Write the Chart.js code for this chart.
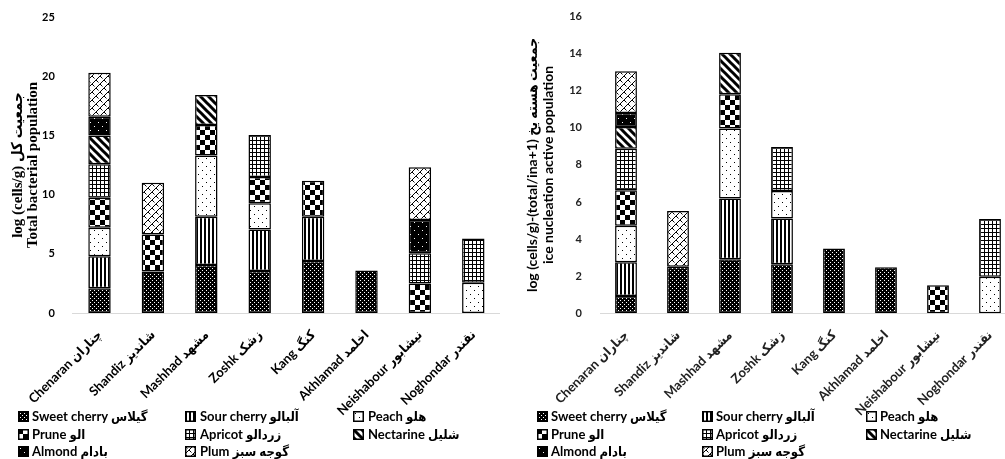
<!DOCTYPE html>
<html><head><meta charset="utf-8">
<script src="https://cdn.jsdelivr.net/npm/chart.js@4.4.1/dist/chart.umd.min.js"></script>
<style>
body{margin:0;width:1005px;height:459px;overflow:hidden;background:#fff;position:relative}
#c1{position:absolute;left:0;top:0}
#c2{position:absolute;left:500px;top:0}
.li{position:absolute;font:bold 13px Lato,'DejaVu Sans Condensed','DejaVu Sans',sans-serif;color:#000;white-space:nowrap;line-height:17px;height:17px}
.li canvas{position:absolute;left:0;top:3px}
.li span{position:absolute;top:0}
</style></head>
<body>
<canvas id="c1" width="500" height="459"></canvas>
<canvas id="c2" width="516" height="459"></canvas>
<div id="legends"></div>
<script>
// ---- data ----
const categories = ['Chenaran چناران','Shandiz شاندیز','Mashhad مشهد','Zoshk زشک','Kang کنگ','Akhlamad اخلمد','Neishabour نیشابور','Noghondar نقندر'];
const seriesNames = ['Sweet cherry گیلاس','Sour cherry آلبالو','Peach هلو','Prune الو','Apricot زردالو','Nectarine شلیل','Almond بادام','Plum گوجه سبز'];

// Total bacterial population (left chart)
const sweetTotal     = [2.1, 3.5, 4.05, 3.55, 4.4, 3.6, null, null];
const sourTotal      = [2.7, null, 4.08, 3.5, 3.73, null, null, null];
const peachTotal     = [2.4, null, 5.17, 2.22, null, null, null, 2.56];
const pruneTotal     = [2.53, 3.14, 2.57, 2.22, 3.03, null, 2.5, null];
const apricotTotal   = [2.84, null, null, 3.55, null, null, 2.54, 3.74];
const nectarineTotal = [2.43, null, 2.55, null, null, null, null, null];
const almondTotal    = [1.57, null, null, null, null, null, 2.81, null];
const plumTotal      = [3.73, 4.36, null, null, null, null, 4.45, null];

// Ice nucleation active population (right chart)
const sweetINA     = [0.93, 2.51, 2.91, 2.64, 3.5, 2.48, null, null];
const sourINA      = [1.82, null, 3.28, 2.47, null, null, null, null];
const peachINA     = [1.97, null, 3.77, 1.48, null, null, null, 1.97];
const pruneINA     = [1.92, null, 1.85, null, null, null, 1.51, null];
const apricotINA   = [2.24, null, null, 2.38, null, null, null, 3.11];
const nectarineINA = [1.17, null, 2.24, null, null, null, null, null];
const almondINA    = [0.75, null, null, null, null, null, null, null];
const plumINA      = [2.25, 3.0, null, null, null, null, null, null];

const totalTicks = {min:0, max:25, step:5};
const inaTicks = {min:0, max:16, step:2};

// ---- patterns ----
function tile(size, draw){
  const c=document.createElement('canvas'); c.width=size; c.height=size;
  const x=c.getContext('2d'); draw(x,size); return c;
}
const tiles = [
  tile(4,(x)=>{x.fillStyle='#000';x.fillRect(0,0,4,4);x.fillStyle='#fff';x.fillRect(0,0,1,1);x.fillRect(2,2,1,1);}), // sweet
  tile(4,(x)=>{x.fillStyle='#fff';x.fillRect(0,0,4,4);x.fillStyle='#000';x.fillRect(0,0,2,4);}), // sour
  tile(8,(x)=>{x.fillStyle='#fff';x.fillRect(0,0,8,8);x.fillStyle='#000';x.fillRect(2,2,1,1);x.fillRect(6,6,1,1);}), // peach
  tile(10,(x)=>{x.fillStyle='#fff';x.fillRect(0,0,10,10);x.fillStyle='#000';x.fillRect(0,0,5,5);x.fillRect(5,5,5,5);}), // prune
  tile(4,(x)=>{x.fillStyle='#fff';x.fillRect(0,0,4,4);x.fillStyle='#000';x.fillRect(0,0,1,4);x.fillRect(0,0,4,1);}), // apricot
  tile(8,(x)=>{x.fillStyle='#fff';x.fillRect(0,0,8,8);x.strokeStyle='#000';x.lineWidth=3;x.beginPath();x.moveTo(-2,-2);x.lineTo(10,10);x.moveTo(-2,6);x.lineTo(2,10);x.moveTo(6,-2);x.lineTo(10,2);x.stroke();}), // nectarine
  tile(8,(x)=>{x.fillStyle='#000';x.fillRect(0,0,8,8);x.fillStyle='#fff';x.fillRect(2,2,1,1);x.fillRect(6,6,1,1);}), // almond
  tile(8,(x)=>{x.fillStyle='#fff';x.fillRect(0,0,8,8);x.strokeStyle='#000';x.lineWidth=1;x.beginPath();x.moveTo(-1,9);x.lineTo(9,-1);x.moveTo(4,4);x.lineTo(6.5,6.5);x.moveTo(0,0);x.lineTo(2.5,2.5);x.stroke();}) // plum
];
const ctxTmp = document.createElement('canvas').getContext('2d');
const patterns = tiles.map(t=>ctxTmp.createPattern(t,'repeat'));

function makeDatasets(arrs){
  return arrs.map((d,i)=>({label:seriesNames[i], data:d, backgroundColor:patterns[i], borderColor:'#000', borderWidth:1.5, borderSkipped:false, barPercentage:0.42, categoryPercentage:1}));
}

const labelFamily = "Lato, 'DejaVu Sans Condensed', 'DejaVu Sans', sans-serif";

function makeChart(id, arrs, tk, titleLines, titleFont, titlePad, yWidth, topPad, xHeight, tickColor){
  return new Chart(document.getElementById(id), {
    type:'bar',
    data:{labels:categories, datasets:makeDatasets(arrs)},
    options:{
      responsive:false, animation:false,
      layout:{padding:{top:topPad,left:0,right:0,bottom:0}},
      plugins:{legend:{display:false}, tooltip:{enabled:false}},
      scales:{
        x:{stacked:true, offset:true,
           grid:{display:false}, border:{display:true,color:'#d9d9d9',width:1},
           ticks:{autoSkip:false,minRotation:45,maxRotation:45,color:tickColor,padding:6,font:{family:labelFamily,weight:'bold',size:13}},
           afterFit:(s)=>{s.height=xHeight;}},
        y:{stacked:true, min:tk.min, max:tk.max,
           grid:{display:false}, border:{display:false},
           ticks:{stepSize:tk.step,color:tickColor,padding:10,font:{family:"Lato, 'DejaVu Sans', sans-serif",weight:'bold',size:11}},
           title:{display:true,text:titleLines,color:'#000',font:titleFont,padding:{top:titlePad,bottom:0}},
           afterFit:(s)=>{s.width=yWidth;}}
      }
    }
  });
}

makeChart('c1',[sweetTotal,sourTotal,peachTotal,pruneTotal,apricotTotal,nectarineTotal,almondTotal,plumTotal], totalTicks,
  ['log (cells/g) جمعیت کل','Total bacterial population'],
  {family:"'Liberation Serif', 'DejaVu Sans Condensed', 'DejaVu Sans', serif",weight:'bold',size:15,lineHeight:1.0}, 11, 72.8, 17, 146, '#000');

makeChart('c2',[sweetINA,sourINA,peachINA,pruneINA,apricotINA,nectarineINA,almondINA,plumINA], inaTicks,
  ['log (cells/g)-(total/ina+1) جمعیت هسته یخ','ice nucleation active population'],
  {family:labelFamily,weight:'bold',size:14,lineHeight:1.15}, 24, 100, 16, 145.7, '#222');

// ---- HTML legends ----
const legRows=[416.7,434,451.7];
function legend(colsSw, colsTx){
  const host=document.getElementById('legends');
  seriesNames.forEach((n,i)=>{
    const r=Math.floor(i/3), c=i%3;
    const d=document.createElement('div'); d.className='li';
    d.style.left=colsSw[c]+'px'; d.style.top=(legRows[r]-8.5)+'px';
    const sw=document.createElement('canvas'); sw.width=11; sw.height=11;
    const x=sw.getContext('2d'); x.fillStyle=patterns[i]; x.fillRect(0,0,11,11);
    x.strokeStyle='#000'; x.lineWidth=1.5; x.strokeRect(0.75,0.75,9.5,9.5);
    d.appendChild(sw);
    const sp=document.createElement('span'); sp.textContent=n; sp.style.left=(colsTx[c]-colsSw[c])+'px';
    d.appendChild(sp); host.appendChild(d);
  });
}
legend([18,185,353],[32,200,368]);
legend([537,702,866],[551,716,880]);
</script>
</body></html>
